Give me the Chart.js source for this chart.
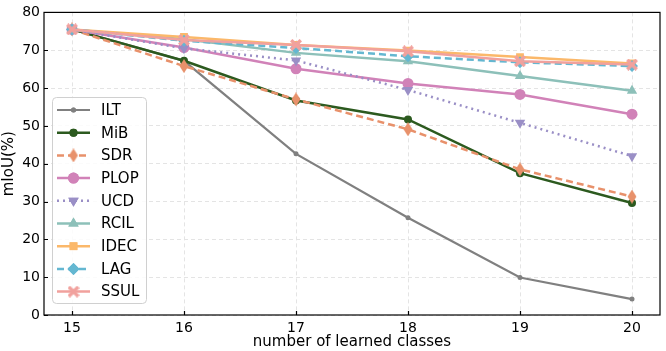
<!DOCTYPE html>
<html>
<head>
<meta charset="utf-8">
<script src="https://cdn.jsdelivr.net/npm/chart.js@4/dist/chart.umd.min.js"></script>
<style>
  html, body { margin: 0; padding: 0; background: #fff; }
  #wrap { width: 666px; height: 351px; }
</style>
</head>
<body>
<div id="wrap"><canvas id="c" width="666" height="351"></canvas></div>
<script>
// data
const classes = [15, 16, 17, 18, 19, 20];
const xTicks = [15, 16, 17, 18, 19, 20];
const yTicks = [0, 10, 20, 30, 40, 50, 60, 70, 80];

const methods = ['ILT', 'MiB', 'SDR', 'PLOP', 'UCD', 'RCIL', 'IDEC', 'LAG', 'SSUL'];
const ilt  = [75.5, 67.2, 42.6, 25.7, 9.9, 4.2];
const mib  = [75.5, 67.2, 56.7, 51.7, 37.5, 29.6];
const sdr  = [75.5, 65.8, 57.0, 49.1, 38.5, 31.3];
const plop = [75.5, 70.7, 65.1, 61.2, 58.3, 53.1];
const ucd  = [75.5, 70.5, 67.3, 59.5, 50.8, 42.0];
const rcil = [75.5, 72.9, 69.3, 67.1, 63.2, 59.3];
const idec = [75.5, 73.5, 71.4, 69.9, 68.2, 66.5];
const lag  = [75.5, 72.5, 70.6, 68.4, 66.8, 65.8];
const ssul = [75.5, 72.7, 71.4, 69.7, 67.1, 66.2];

const seriesValues = [ilt, mib, sdr, plop, ucd, rcil, idec, lag, ssul];

// small canvas markers for shapes chart.js doesn't have
function makeMarker(shape, color, size) {
    const cv = document.createElement('canvas');
    cv.width = size;
    cv.height = size;
    const g = cv.getContext('2d');
    const h = size / 2;
    g.fillStyle = color;
    g.beginPath();
    if (shape === 'thinDiamond') {
        g.moveTo(h, 0);
        g.lineTo(h + size * 0.32, h);
        g.lineTo(h, size);
        g.lineTo(h - size * 0.32, h);
    } else if (shape === 'xfilled') {
        const t = size * 0.2;
        const pts = [
            [t, 0], [h, h - t], [size - t, 0], [size, t], [h + t, h],
            [size, size - t], [size - t, size], [h, h + t], [t, size],
            [0, size - t], [h - t, h], [0, t]
        ];
        g.moveTo(pts[0][0], pts[0][1]);
        pts.slice(1).forEach(p => g.lineTo(p[0], p[1]));
    }
    g.closePath();
    g.fill();
    return cv;
}

const styles = [
    { color: '#808080', dash: [], point: 'circle', radius: 2.5, rot: 0, width: 2.2 },
    { color: '#2c5a1f', dash: [], point: 'circle', radius: 4, rot: 0, width: 2.5 },
    { color: '#e8916b', dash: [7, 4], point: makeMarker('thinDiamond', '#e8916b', 14), radius: 6, rot: 0, width: 2.5 },
    { color: '#d182b8', dash: [], point: 'circle', radius: 5.5, rot: 0, width: 2.5 },
    { color: '#9a8fc6', dash: [2, 4], point: 'triangle', radius: 6, rot: 180, width: 2.5 },
    { color: '#8dc0b9', dash: [], point: 'triangle', radius: 6, rot: 0, width: 2.5 },
    { color: '#fbb86a', dash: [], point: 'rect', radius: 5.5, rot: 0, width: 2.5 },
    { color: '#64b7d1', dash: [7, 4], point: 'rectRot', radius: 6, rot: 0, width: 2.5 },
    { color: '#f1a19d', dash: [], point: makeMarker('xfilled', '#f1a19d', 12), radius: 6, rot: 0, width: 2.5 }
];

const datasets = methods.map((name, i) => ({
    label: name,
    data: classes.map((x, j) => ({ x: x, y: seriesValues[i][j] })),
    borderColor: styles[i].color,
    backgroundColor: styles[i].color,
    borderWidth: styles[i].width,
    borderDash: styles[i].dash,
    pointStyle: styles[i].point,
    pointRadius: styles[i].radius,
    pointRotation: styles[i].rot,
    pointBorderWidth: 0,
    pointBackgroundColor: styles[i].color,
    pointBorderColor: styles[i].color,
    tension: 0,
    order: methods.length - 1 - i
}));

const FONT = 'DejaVu Sans';

function drawMarker(ctx, st, x, y) {
    if (st.point instanceof HTMLCanvasElement) {
        ctx.drawImage(st.point, x - st.point.width / 2, y - st.point.height / 2);
        return;
    }
    Chart.helpers.drawPoint(ctx, {
        pointStyle: st.point,
        rotation: st.rot,
        radius: st.radius,
        borderWidth: 0
    }, x, y);
    ctx.fill();
}

// frame, inward ticks and the legend box
const framePlugin = {
    id: 'frame',
    afterDraw(chart) {
        const ctx = chart.ctx;
        const a = chart.chartArea;
        const xs = chart.scales.x;
        const ys = chart.scales.y;
        ctx.save();
        ctx.strokeStyle = '#000';
        ctx.lineWidth = 1.2;
        ctx.setLineDash([]);
        ctx.strokeRect(a.left, a.top, a.right - a.left, a.bottom - a.top);
        ctx.beginPath();
        xTicks.forEach(v => {
            const px = Math.round(xs.getPixelForValue(v)) + 0.5;
            ctx.moveTo(px, a.bottom);
            ctx.lineTo(px, a.bottom - 4);
        });
        yTicks.forEach(v => {
            const py = Math.round(ys.getPixelForValue(v)) + 0.5;
            ctx.moveTo(a.left, py);
            ctx.lineTo(a.left + 4, py);
        });
        ctx.stroke();

        // legend
        const bx = 52, by = 97, bw = 94, bh = 206;
        ctx.fillStyle = 'rgba(255,255,255,0.85)';
        ctx.strokeStyle = '#d0d0d0';
        ctx.lineWidth = 1;
        ctx.beginPath();
        ctx.roundRect(bx + 0.5, by + 0.5, bw, bh, 4);
        ctx.fill();
        ctx.stroke();

        ctx.font = '15px "' + FONT + '"';
        ctx.textBaseline = 'middle';
        ctx.textAlign = 'left';
        methods.forEach((name, i) => {
            const st = styles[i];
            const y = 110 + i * 22.7;
            ctx.strokeStyle = st.color;
            ctx.fillStyle = st.color;
            ctx.lineWidth = st.width;
            ctx.setLineDash(st.dash);
            ctx.beginPath();
            ctx.moveTo(57, y);
            ctx.lineTo(90, y);
            ctx.stroke();
            ctx.setLineDash([]);
            drawMarker(ctx, st, 73.5, y);
            ctx.fillStyle = '#000';
            ctx.fillText(name, 101, y + 1);
        });
        ctx.restore();
    }
};

new Chart(document.getElementById('c'), {
    type: 'line',
    data: { datasets: datasets },
    options: {
        responsive: false,
        animation: false,
        layout: { padding: { top: 7, right: 3, left: 0, bottom: 0 } },
        plugins: {
            legend: { display: false },
            tooltip: { enabled: false }
        },
        scales: {
            x: {
                type: 'linear',
                min: 14.75,
                max: 20.25,
                afterBuildTicks: axis => { axis.ticks = xTicks.map(v => ({ value: v })); },
                afterFit: axis => { axis.height = 36; },
                grid: { color: '#e4e4e4', lineWidth: 1, drawTicks: false },
                border: { display: false, dash: [4, 3] },
                ticks: {
                    color: '#000',
                    padding: 5,
                    font: { family: FONT, size: 14 },
                    maxRotation: 0
                },
                title: {
                    display: true,
                    text: 'number of learned classes',
                    color: '#000',
                    font: { family: FONT, size: 15 },
                    padding: { top: 0, bottom: 0 }
                }
            },
            y: {
                min: 0,
                max: 80,
                afterBuildTicks: axis => { axis.ticks = yTicks.map(v => ({ value: v })); },
                afterFit: axis => { axis.width = 44; },
                grid: { color: '#e4e4e4', lineWidth: 1, drawTicks: false },
                border: { display: false, dash: [4, 3] },
                ticks: {
                    color: '#000',
                    padding: 4,
                    font: { family: FONT, size: 14 }
                },
                title: {
                    display: true,
                    text: 'mIoU(%)',
                    color: '#000',
                    font: { family: FONT, size: 15 },
                    padding: { top: 0, bottom: 1 }
                }
            }
        }
    },
    plugins: [framePlugin]
});
</script>
</body>
</html>
